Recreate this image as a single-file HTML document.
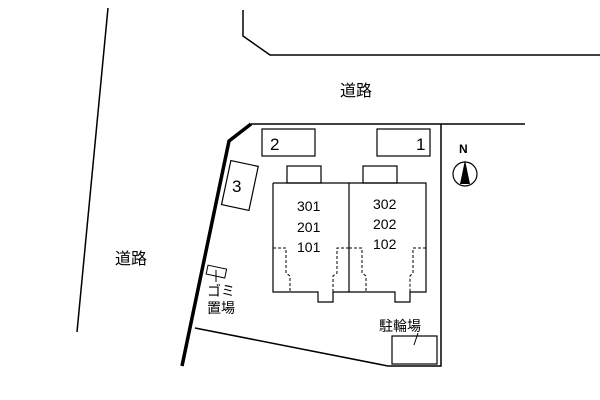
<!DOCTYPE html>
<html><head><meta charset="utf-8"><style>body{margin:0;background:#fff}svg{display:block}text{font-family:"Liberation Sans","Noto Sans CJK JP",sans-serif;fill:#000}</style></head><body>
<svg width="600" height="400" viewBox="0 0 600 400" fill="none" stroke="#000">
<line x1="108" y1="8" x2="77" y2="332" stroke-width="1.5"/>
<polyline points="243,10 243,36 270,55 600,55" stroke-width="1.5"/>
<text x="340" y="96" font-size="16" stroke="none">道路</text>
<text x="115" y="264" font-size="16" stroke="none">道路</text>
<polyline points="182,366 229,141 251,124" stroke-width="3.5"/>
<polyline points="251,124 525,124" stroke-width="1.5"/>
<polyline points="441,124 441,366 388,366 195,328" stroke-width="1.5"/>
<rect x="262" y="129" width="53" height="27" stroke-width="1.2"/>
<text x="270" y="150" font-size="17" stroke="none">2</text>
<rect x="377" y="129" width="53" height="27" stroke-width="1.2"/>
<text x="416" y="150" font-size="17" stroke="none">1</text>
<rect x="226" y="163" width="28" height="45" transform="rotate(12 240 185)" stroke-width="1.2"/>
<text x="232" y="192" font-size="17" stroke="none">3</text>
<rect x="287" y="166" width="34" height="17" stroke-width="1.2"/>
<rect x="363" y="166" width="34" height="17" stroke-width="1.2"/>
<polyline points="273,183 349,183 349,292 333,292 333,302 318,302 318,292 288,292 288,292 273,292 273,183" stroke-width="1.2"/>
<polyline points="349,183 426,183 426,292 410,292 410,302 395,302 395,292 365,292 349,292" stroke-width="1.2"/>
<g stroke-dasharray="3,2" stroke-width="1">
<polyline points="273,248 286,248 286,273 290,276 290,292"/>
<polyline points="349,248 337,248 337,273 333,276 333,292"/>
<polyline points="349,248 362,248 362,273 366,276 366,292"/>
<polyline points="426,248 413,248 413,273 410,276 410,292"/>
</g>
<text x="297" y="211" font-size="14" stroke="none">301</text>
<text x="297" y="232" font-size="14" stroke="none">201</text>
<text x="297" y="252" font-size="14" stroke="none">101</text>
<text x="373" y="209" font-size="14" stroke="none">302</text>
<text x="373" y="229" font-size="14" stroke="none">202</text>
<text x="373" y="249" font-size="14" stroke="none">102</text>
<circle cx="465" cy="174" r="12" stroke-width="1.2"/>
<polygon points="465,160 460,184 470,184" fill="#000" stroke="none"/>
<text x="459" y="153" font-size="12" font-weight="bold" stroke="none">N</text>
<rect x="207" y="267" width="19" height="9" transform="rotate(12 216 271)" stroke-width="1"/>
<line x1="216" y1="270" x2="216" y2="282" stroke-width="1"/>
<text x="207" y="296" font-size="14" stroke="none">ゴミ</text>
<text x="207" y="313" font-size="14" stroke="none">置場</text>
<text x="379" y="331" font-size="14" stroke="none">駐輪場</text>
<line x1="418" y1="333" x2="414" y2="345" stroke-width="1"/>
<rect x="392" y="336" width="45" height="28" stroke-width="1.2"/>
</svg></body></html>
